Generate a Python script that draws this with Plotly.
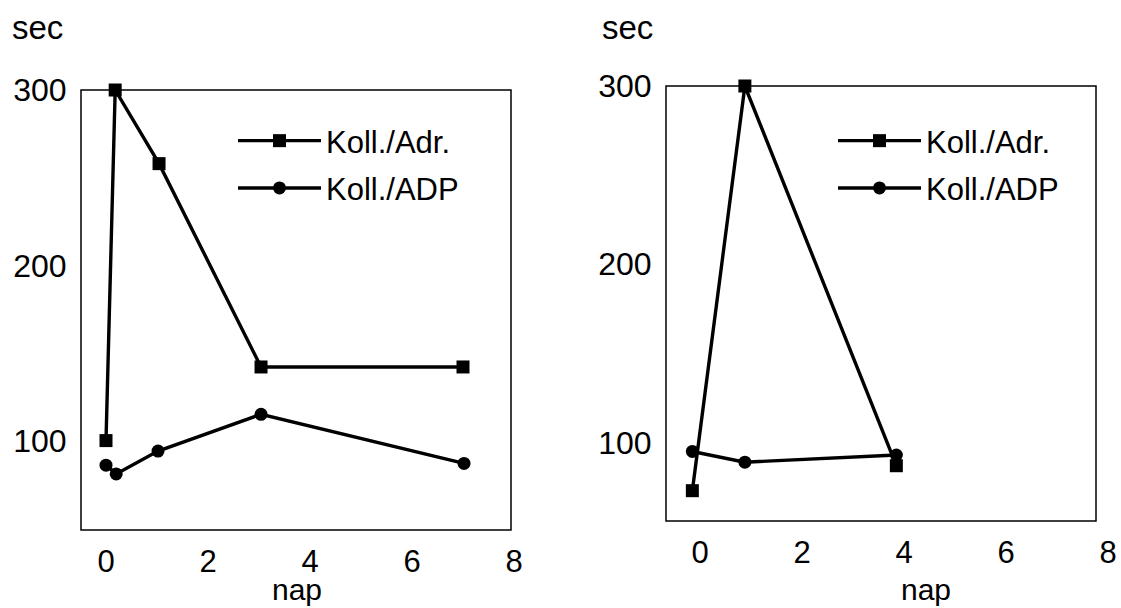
import plotly.graph_objects as go

# Left panel data
left_adr_x = [0, 0.18, 1.04, 3.04, 7.0]
left_adr_y = [100, 300, 258, 142, 142]
left_adp_x = [0, 0.2, 1.02, 3.04, 7.02]
left_adp_y = [86, 81, 94, 115, 87]

# Right panel data
right_adr_x = [-0.15, 0.88, 3.85]
right_adr_y = [73, 300, 87]
right_adp_x = [-0.15, 0.88, 3.85]
right_adp_y = [95, 89, 93]

x_ticks = [0, 2, 4, 6, 8]
y_ticks = [100, 200, 300]
series_names = ["Koll./Adr.", "Koll./ADP"]

FONT = "Liberation Sans, Arial, sans-serif"
LINE = dict(color="black", width=3.4)

fig = go.Figure()
fig.add_trace(go.Scatter(x=left_adr_x, y=left_adr_y, mode="lines+markers", name=series_names[0],
                         line=LINE, marker=dict(symbol="square", size=13, color="black"),
                         xaxis="x", yaxis="y", legend="legend", legendgroup="a", cliponaxis=False))
fig.add_trace(go.Scatter(x=left_adp_x, y=left_adp_y, mode="lines+markers", name=series_names[1],
                         line=LINE, marker=dict(symbol="circle", size=13, color="black"),
                         xaxis="x", yaxis="y", legend="legend", legendgroup="b", cliponaxis=False))
fig.add_trace(go.Scatter(x=right_adr_x, y=right_adr_y, mode="lines+markers", name=series_names[0],
                         line=LINE, marker=dict(symbol="square", size=13, color="black"),
                         xaxis="x2", yaxis="y2", legend="legend2", legendgroup="c", cliponaxis=False))
fig.add_trace(go.Scatter(x=right_adp_x, y=right_adp_y, mode="lines+markers", name=series_names[1],
                         line=LINE, marker=dict(symbol="circle", size=13, color="black"),
                         xaxis="x2", yaxis="y2", legend="legend2", legendgroup="d", cliponaxis=False))

W, H = 1121, 608

# plot frames (pixel positions of the boxes)
L_LEFT, L_RIGHT, L_TOP, L_BOT = 81, 511, 90, 530
R_LEFT, R_RIGHT, R_TOP, R_BOT = 666, 1096, 86, 521

# x scales: left 0 -> 106px, 8 -> 514px ; right 0 -> 700px, 8 -> 1108px
L_PX_PER = (514 - 106) / 8
R_PX_PER = (1108 - 700) / 8
L_XEND = 530
R_XEND = 1118
l_range = [(L_LEFT - 106) / L_PX_PER, (L_XEND - 106) / L_PX_PER]
r_range = [(R_LEFT - 700) / R_PX_PER, (R_XEND - 700) / R_PX_PER]

axis_font = dict(family=FONT, size=32, color="black")
x_common = dict(showgrid=False, zeroline=False, showline=False, ticks="outside",
                tickcolor="rgba(0,0,0,0)", ticklen=4, tickfont=dict(family=FONT, size=31, color="black"),
                automargin=False, tickvals=x_ticks)
y_common = dict(showgrid=False, zeroline=False, showline=False, ticks="outside",
                tickcolor="rgba(0,0,0,0)", ticklen=7, tickfont=axis_font, automargin=False,
                tickvals=y_ticks)

frame = dict(type="rect", xref="paper", yref="paper", line=dict(color="black", width=1.5),
             fillcolor="rgba(0,0,0,0)", layer="below")

legend_font = dict(family=FONT, size=31, color="black")

fig.update_layout(
    width=W, height=H,
    margin=dict(l=0, r=0, t=0, b=0),
    paper_bgcolor="white", plot_bgcolor="rgba(0,0,0,0)",
    font=dict(family=FONT, color="black"),
    xaxis=dict(domain=[L_LEFT / W, L_XEND / W], range=l_range, anchor="y", **x_common),
    yaxis=dict(domain=[1 - L_BOT / H, 1 - L_TOP / H], range=[49, 300], anchor="x", **y_common),
    xaxis2=dict(domain=[R_LEFT / W, R_XEND / W], range=r_range, anchor="y2", **x_common),
    yaxis2=dict(domain=[1 - R_BOT / H, 1 - R_TOP / H], range=[56, 300], anchor="x2", **y_common),
    legend=dict(x=233 / W, y=1 - 114 / H, xanchor="left", yanchor="top", bgcolor="rgba(0,0,0,0)",
                font=legend_font, tracegroupgap=4, traceorder="grouped", itemwidth=83),
    legend2=dict(x=833 / W, y=1 - 114 / H, xanchor="left", yanchor="top", bgcolor="rgba(0,0,0,0)",
                 font=legend_font, tracegroupgap=4, traceorder="grouped", itemwidth=83),
    shapes=[
        dict(frame, x0=L_LEFT / W, x1=L_RIGHT / W, y0=1 - L_BOT / H, y1=1 - L_TOP / H),
        dict(frame, x0=R_LEFT / W, x1=R_RIGHT / W, y0=1 - R_BOT / H, y1=1 - R_TOP / H),
    ],
    annotations=[
        dict(text="sec", x=10 / W, y=1 - 28 / H, xref="paper", yref="paper", xanchor="left",
             yanchor="middle", showarrow=False, font=dict(family=FONT, size=33, color="black")),
        dict(text="sec", x=600 / W, y=1 - 28 / H, xref="paper", yref="paper", xanchor="left",
             yanchor="middle", showarrow=False, font=dict(family=FONT, size=33, color="black")),
        dict(text="nap", x=297 / W, y=1 - 589 / H, xref="paper", yref="paper", xanchor="center",
             yanchor="middle", showarrow=False, font=dict(family=FONT, size=30, color="black")),
        dict(text="nap", x=926 / W, y=1 - 589 / H, xref="paper", yref="paper", xanchor="center",
             yanchor="middle", showarrow=False, font=dict(family=FONT, size=30, color="black")),
    ],
)

fig.write_html("out.html")
